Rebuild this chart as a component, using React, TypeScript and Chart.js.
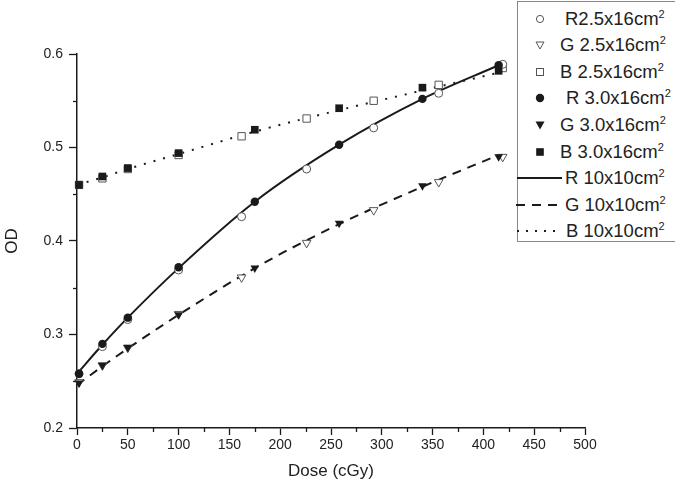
import React, { useEffect, useRef } from 'react';
import { Chart, registerables } from 'chart.js';

Chart.register(...registerables);

// ---- data ----
const doseFilled = [2, 25, 50, 100, 175, 258, 340, 415];
const r30 = [0.258, 0.290, 0.318, 0.372, 0.442, 0.503, 0.552, 0.588];
const g30 = [0.248, 0.267, 0.286, 0.321, 0.371, 0.419, 0.459, 0.490];
const b30 = [0.460, 0.469, 0.478, 0.494, 0.519, 0.542, 0.564, 0.582];

const doseOpen = [2, 25, 50, 100, 162, 226, 292, 356, 419];
const r25 = [0.258, 0.287, 0.316, 0.369, 0.426, 0.477, 0.521, 0.558, 0.589];
const g25 = [0.249, 0.267, 0.286, 0.322, 0.361, 0.398, 0.433, 0.463, 0.490];
const b25 = [0.460, 0.467, 0.477, 0.492, 0.512, 0.531, 0.550, 0.567, 0.585];

const doseLine = [0, 25, 50, 100, 175, 258, 340, 415];
const rLine = [0.258, 0.289, 0.318, 0.371, 0.442, 0.503, 0.552, 0.588];
const gLine = [0.246, 0.266, 0.285, 0.321, 0.371, 0.418, 0.458, 0.492];
const bLine = [0.460, 0.468, 0.477, 0.493, 0.517, 0.540, 0.561, 0.580];

const xMinorTicks = [25, 75, 125, 175, 225, 275, 325, 375, 425, 475];
const yMinorTicks = [0.25, 0.35, 0.45, 0.55];

const legendLabels = [
  'R2.5x16cm', 'G 2.5x16cm', 'B 2.5x16cm',
  'R 3.0x16cm', 'G 3.0x16cm', 'B 3.0x16cm',
  'R 10x10cm', 'G 10x10cm', 'B 10x10cm',
];

const pts = (xs: number[], ys: number[]) => xs.map((x, i) => ({ x, y: ys[i] }));

const INK = '#1a1a1a';
const OPEN = '#555';

const minorTicksPlugin = {
  id: 'minorTicks',
  afterDraw(chart: any) {
    const { ctx, scales } = chart;
    const x = scales.x;
    const y = scales.y;
    ctx.save();
    ctx.strokeStyle = INK;
    ctx.lineWidth = 1.3;
    xMinorTicks.forEach((v) => {
      const px = Math.round(x.getPixelForValue(v)) + 0.5;
      ctx.beginPath();
      ctx.moveTo(px, x.top);
      ctx.lineTo(px, x.top + 4);
      ctx.stroke();
    });
    yMinorTicks.forEach((v) => {
      const py = Math.round(y.getPixelForValue(v)) + 0.5;
      ctx.beginPath();
      ctx.moveTo(y.right - 4, py);
      ctx.lineTo(y.right, py);
      ctx.stroke();
    });
    ctx.restore();
  },
};

function Marker({ kind }: { kind: string }) {
  const w = 48;
  const h = 14;
  const cx = 24;
  const cy = 7;
  let el: any = null;
  if (kind === 'oc') el = <circle cx={cx} cy={cy} r={3.6} fill="#fff" stroke={OPEN} strokeWidth={1} />;
  if (kind === 'fc') el = <circle cx={cx} cy={cy} r={4.2} fill={INK} />;
  if (kind === 'ot') el = <polygon points={`${cx - 4},${cy - 3} ${cx + 4},${cy - 3} ${cx},${cy + 4}`} fill="#fff" stroke={OPEN} strokeWidth={1} />;
  if (kind === 'ft') el = <polygon points={`${cx - 4.5},${cy - 3.5} ${cx + 4.5},${cy - 3.5} ${cx},${cy + 4.5}`} fill={INK} />;
  if (kind === 'os') el = <rect x={cx - 3.5} y={cy - 3.5} width={7} height={7} fill="#fff" stroke={OPEN} strokeWidth={1} />;
  if (kind === 'fs') el = <rect x={cx - 3.8} y={cy - 3.8} width={7.6} height={7.6} fill={INK} />;
  if (kind === 'ls') el = <line x1={1} y1={cy} x2={46} y2={cy} stroke={INK} strokeWidth={2} />;
  if (kind === 'ld') el = <line x1={0} y1={cy} x2={46} y2={cy} stroke={INK} strokeWidth={2} strokeDasharray="9 7" />;
  if (kind === 'lo') el = <line x1={1} y1={cy} x2={46} y2={cy} stroke={INK} strokeWidth={2} strokeDasharray="2 7" />;
  return (
    <svg width={w} height={h} style={{ position: 'absolute', left: 0, top: -7, overflow: 'visible' }}>
      {el}
    </svg>
  );
}

const legendKinds = ['oc', 'ot', 'os', 'fc', 'ft', 'fs', 'ls', 'ld', 'lo'];
const legendTextLeft = [565, 560, 560, 566, 560, 560, 565, 565, 566];

export default function App() {
  const ref = useRef<HTMLCanvasElement | null>(null);

  useEffect(() => {
    if (!ref.current) return;
    const pointBase = { showLine: false, clip: false as any };
    const chart = new Chart(ref.current, {
      type: 'scatter',
      data: {
        datasets: [
          { ...pointBase, label: 'R 3.0x16cm2', data: pts(doseFilled, r30), pointStyle: 'circle', pointRadius: 4.2, backgroundColor: INK, borderColor: INK, borderWidth: 0 },
          { ...pointBase, label: 'G 3.0x16cm2', data: pts(doseFilled, g30), pointStyle: 'triangle', rotation: 180, pointRadius: 5, backgroundColor: INK, borderColor: INK, borderWidth: 0 },
          { ...pointBase, label: 'B 3.0x16cm2', data: pts(doseFilled, b30), pointStyle: 'rect', pointRadius: 5.4, backgroundColor: INK, borderColor: INK, borderWidth: 0 },
          { ...pointBase, label: 'R2.5x16cm2', data: pts(doseOpen, r25), pointStyle: 'circle', pointRadius: 4, backgroundColor: '#fff', borderColor: OPEN, borderWidth: 1 },
          { ...pointBase, label: 'G 2.5x16cm2', data: pts(doseOpen, g25), pointStyle: 'triangle', rotation: 180, pointRadius: 5, backgroundColor: '#fff', borderColor: OPEN, borderWidth: 1 },
          { ...pointBase, label: 'B 2.5x16cm2', data: pts(doseOpen, b25), pointStyle: 'rect', pointRadius: 5.2, backgroundColor: '#fff', borderColor: OPEN, borderWidth: 1 },
          { label: 'R 10x10cm2', data: pts(doseLine, rLine), showLine: true, pointRadius: 0, borderColor: INK, borderWidth: 2, tension: 0.4, cubicInterpolationMode: 'monotone', clip: false as any },
          { label: 'G 10x10cm2', data: pts(doseLine, gLine), showLine: true, pointRadius: 0, borderColor: INK, borderWidth: 2, borderDash: [9, 7], tension: 0.4, cubicInterpolationMode: 'monotone', clip: false as any },
          { label: 'B 10x10cm2', data: pts(doseLine, bLine), showLine: true, pointRadius: 0, borderColor: INK, borderWidth: 2, borderDash: [2, 8], tension: 0.4, cubicInterpolationMode: 'monotone', clip: false as any },
        ] as any,
      },
      options: {
        animation: false,
        responsive: false,
        maintainAspectRatio: false,
        layout: { padding: { left: 0, top: 54, right: 90, bottom: 0 } },
        plugins: { legend: { display: false }, tooltip: { enabled: false } },
        scales: {
          x: {
            type: 'linear',
            min: 0,
            max: 500,
            afterFit: (s: any) => { s.height = 61; },
            ticks: { stepSize: 50, color: '#222', padding: 2, font: { family: 'Liberation Sans, Arial, sans-serif', size: 14 }, maxRotation: 0 },
            grid: { drawOnChartArea: false, drawTicks: true, tickLength: 7, tickColor: INK, tickWidth: 1.3 },
            border: { display: true, color: INK, width: 1.5 },
            title: { display: true, text: 'Dose (cGy)', color: '#222', font: { family: 'Liberation Sans, Arial, sans-serif', size: 17 }, padding: { top: 0, bottom: 7 } },
          },
          y: {
            type: 'linear',
            min: 0.2,
            max: 0.6,
            afterFit: (s: any) => { s.width = 77; },
            ticks: { stepSize: 0.1, color: '#222', padding: 6, font: { family: 'Liberation Sans, Arial, sans-serif', size: 14 }, callback: (v: any) => Number(v).toFixed(1) },
            grid: { drawOnChartArea: false, drawTicks: true, tickLength: 8, tickColor: INK, tickWidth: 1.3 },
            border: { display: true, color: INK, width: 1.5 },
            title: { display: true, text: 'OD', color: '#222', font: { family: 'Liberation Sans, Arial, sans-serif', size: 17 }, padding: { top: 2, bottom: 0 } },
          },
        },
      },
      plugins: [minorTicksPlugin],
    });
    return () => chart.destroy();
  }, []);

  return (
    <div style={{ position: 'fixed', left: 0, top: 0, width: 675, height: 489, overflow: 'hidden', background: '#fff' }}>
      <canvas ref={ref} width={675} height={489} style={{ position: 'absolute', left: 0, top: 0 }} />
      <div style={{ position: 'absolute', left: 517, top: 1, width: 170, height: 239, border: '1px solid #888', background: '#fff' }} />
      {legendLabels.map((lab, i) => {
        const cy = 18.5 + 26.6 * i;
        return (
          <React.Fragment key={lab}>
            <div style={{ position: 'absolute', left: 516, top: cy, width: 48, height: 0 }}>
              <Marker kind={legendKinds[i]} />
            </div>
            <div
              style={{
                position: 'absolute',
                left: legendTextLeft[i],
                top: cy - 11,
                height: 22,
                lineHeight: '22px',
                fontFamily: 'Liberation Sans, Arial, sans-serif',
                fontSize: 18.5,
                color: '#222',
                whiteSpace: 'nowrap',
              }}
            >
              {lab}
              <sup style={{ fontSize: 11, verticalAlign: 'top', position: 'relative', top: -5 }}>2</sup>
            </div>
          </React.Fragment>
        );
      })}
    </div>
  );
}
